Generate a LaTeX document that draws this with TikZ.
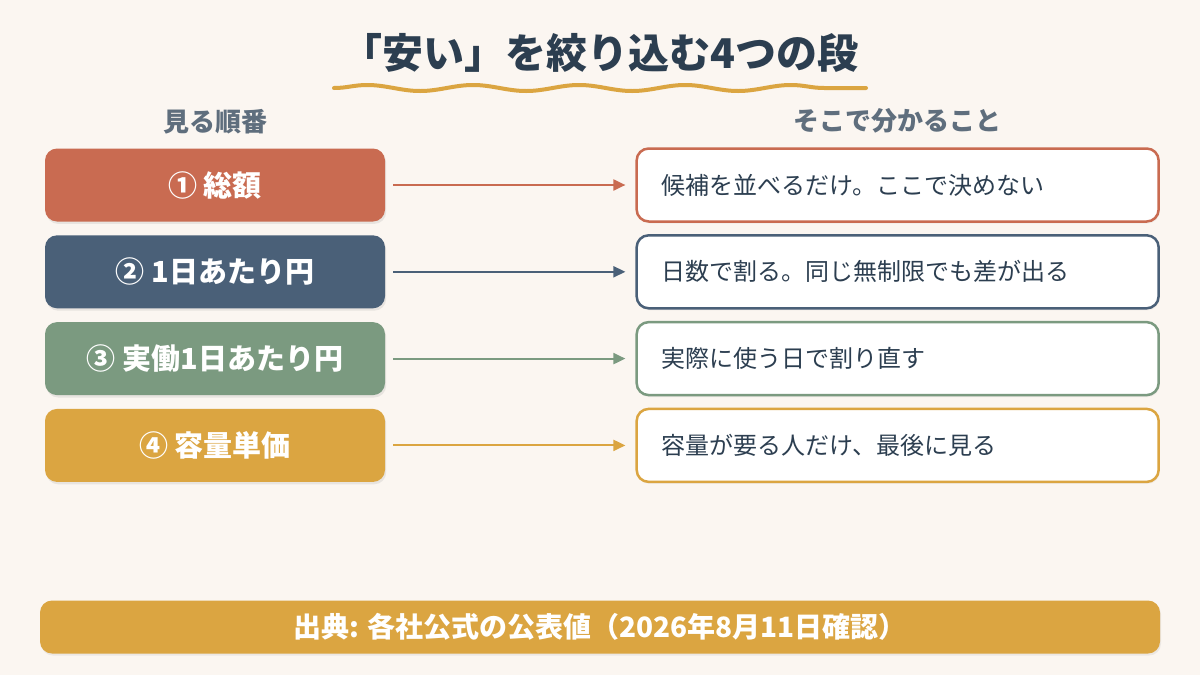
\documentclass[tikz,border=0pt]{standalone}
\usepackage{fontspec}
\setmainfont{Noto Sans CJK JP}
\usepackage{tikz}
\usetikzlibrary{arrows.meta, positioning, shadows, decorations.pathmorphing}
\definecolor{paper}{HTML}{FBF6F1}
\definecolor{ink}{HTML}{2C3E50}
\definecolor{mist}{HTML}{5F6E7D}
\definecolor{rust}{HTML}{C96B51}
\definecolor{slate}{HTML}{4A6078}
\definecolor{sage}{HTML}{7B9A80}
\definecolor{mustard}{HTML}{DBA541}

\begin{document}
\begin{tikzpicture}[x=0.5pt, y=-0.5pt,
      headline/.style={font=\bfseries\fontsize{20.5}{24}\selectfont, text=ink, inner sep=0pt},
      wavy/.style={mustard, line width=2pt, line cap=round, decorate,
                   decoration={snake, amplitude=1.5pt, segment length=53pt}},
      colhead/.style={font=\bfseries\fontsize{13}{15}\selectfont, text=mist, inner sep=0pt},
      stage/.style={rectangle, rounded corners=6pt, fill=#1, text=white,
                    font=\bfseries\fontsize{14.5}{17}\selectfont,
                    minimum width=170pt, minimum height=36.5pt,
                    drop shadow={shadow xshift=0.6pt, shadow yshift=-1.2pt, opacity=0.15}},
      note/.style={rectangle, rounded corners=6pt, draw=#1, line width=1.25pt, fill=white,
                   text=ink, font=\fontsize{12}{14}\selectfont, align=left,
                   text width=236pt, inner xsep=12.5pt,
                   minimum width=261pt, minimum height=36.5pt,
                   drop shadow={shadow xshift=0.5pt, shadow yshift=-1pt, opacity=0.08}},
      arr/.style={-{Triangle[length=6pt, width=5.5pt]}, line width=1pt, #1,
                  shorten <=4pt, shorten >=5pt},
      srcbar/.style={rectangle, rounded corners=6pt, fill=mustard, text=white,
                     font=\bfseries\fontsize{14}{16}\selectfont,
                     minimum width=560pt, minimum height=26.5pt,
                     drop shadow={shadow xshift=0.5pt, shadow yshift=-1pt, opacity=0.12}},
      ]
    \fill[paper] (0,0) rectangle (1200,675);
    \useasboundingbox (0,0) rectangle (1200,675);

    % title
    \node[headline] (title) at (600,53) {「安い」を絞り込む4つの段};
    \coordinate (wl) at (334,88);
    \coordinate (wr) at (866,88);
    \draw[wavy] (wl) -- (wr);

    % left: order to look at
    \node[stage=rust] (s1) at (215,185) {① 総額};
    \node[stage=slate, below=6.5pt of s1] (s2) {② 1日あたり円};
    \node[stage=sage, below=6.5pt of s2] (s3) {③ 実働1日あたり円};
    \node[stage=mustard, below=6.5pt of s3] (s4) {④ 容量単価};

    % right: what each step tells
    \node[note=rust, right=125pt of s1] (n1) {候補を並べるだけ。ここで決めない};
    \node[note=slate, right=125pt of s2] (n2) {日数で割る。同じ無制限でも差が出る};
    \node[note=sage, right=125pt of s3] (n3) {実際に使う日で割り直す};
    \node[note=mustard, right=125pt of s4] (n4) {容量が要る人だけ、最後に見る};

    % column heads
    \node[colhead, above=13pt of s1, anchor=center] (h1) {見る順番};
    \node[colhead, above=13pt of n1, anchor=center] (h2) {そこで分かること};

    \draw[arr=rust] (s1) -- (n1);
    \draw[arr=slate] (s2) -- (n2);
    \draw[arr=sage] (s3) -- (n3);
    \draw[arr=mustard] (s4) -- (n4);

    % source
    \node[srcbar] (src) at (600,627) {出典: 各社公式の公表値（2026年8月11日確認）};
  \end{tikzpicture}
\end{document}
